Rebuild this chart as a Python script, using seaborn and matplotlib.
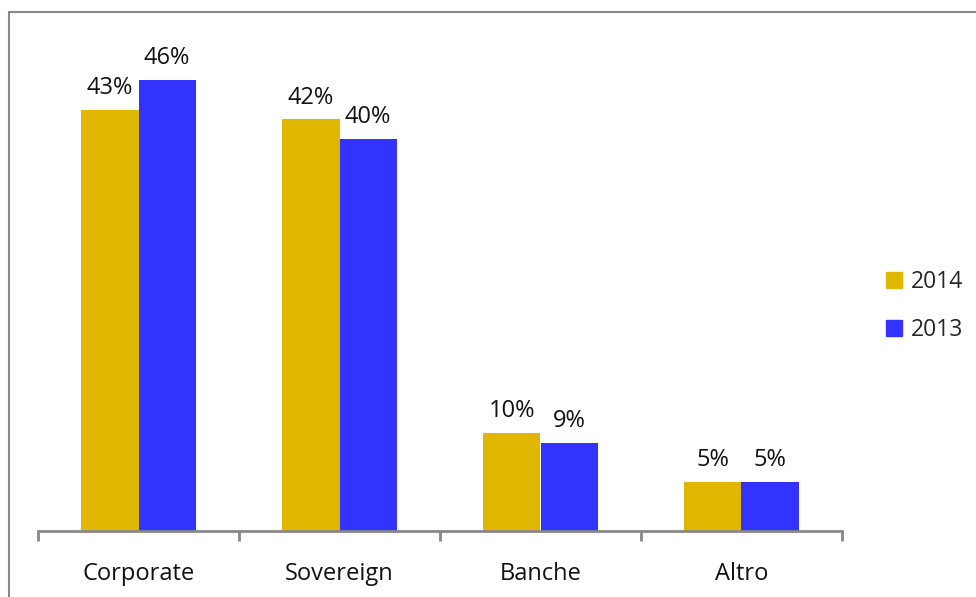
import pandas as pd
import matplotlib
matplotlib.use("Agg")
import matplotlib.pyplot as plt
import seaborn as sns
from matplotlib.patches import Rectangle

# dati
categories = ["Corporate", "Sovereign", "Banche", "Altro"]
years = ["2014", "2013"]
values_2014 = [43, 42, 10, 5]
values_2013 = [46, 40, 9, 5]
colors = {"2014": "#E0B700", "2013": "#3333FF"}

df = pd.DataFrame({
    "categoria": categories * 2,
    "anno": ["2014"] * len(categories) + ["2013"] * len(categories),
    "valore": values_2014 + values_2013,
})

sns.set_theme(style="white")
plt.rcParams["font.family"] = ["Open Sans", "DejaVu Sans"]

fig = plt.figure(figsize=(9.76, 5.97), dpi=100)
ax = fig.add_axes([38 / 976, 66 / 597, 804 / 976, 500 / 597])

sns.barplot(
    data=df, x="categoria", y="valore", hue="anno",
    hue_order=years, palette=colors, order=categories,
    width=0.57, saturation=1, linewidth=0, ax=ax, legend=False,
)

for cont in ax.containers:
    ax.bar_label(cont, fmt="%d%%", padding=7, fontsize=17, color="#111111")

ax.set_xlim(-0.5, len(categories) - 0.5)
ax.set_ylim(0, 500 / 9.8)
ax.set_xlabel("")
ax.set_ylabel("")
ax.set_yticks([])
for s in ["top", "right", "left"]:
    ax.spines[s].set_visible(False)
ax.spines["bottom"].set_color("#888888")
ax.spines["bottom"].set_linewidth(2)

ax.set_xticks(range(len(categories)))
ax.set_xticklabels(categories, fontsize=17, color="#111111")
ax.tick_params(axis="x", which="major", length=0, pad=22)
ax.set_xticks([i - 0.5 for i in range(len(categories) + 1)], minor=True)
ax.tick_params(axis="x", which="minor", length=7, width=2, color="#888888", bottom=True)

# legenda
handles = [plt.Rectangle((0, 0), 1, 1, color=colors[y]) for y in years]
fig.legend(
    handles, years, loc="center left", bbox_to_anchor=(865 / 976, 1 - 306 / 597),
    frameon=False, fontsize=16.5, handlelength=0.7, handleheight=0.7,
    handletextpad=0.4, labelspacing=1.05,
)

# cornice
fig.patches.append(Rectangle((9 / 976, -0.1), 1.2, 1.1 - 12 / 597,
                             transform=fig.transFigure, fill=False,
                             edgecolor="#888888", linewidth=1.5))

plt.savefig("out.png", dpi=100)
plt.close()
